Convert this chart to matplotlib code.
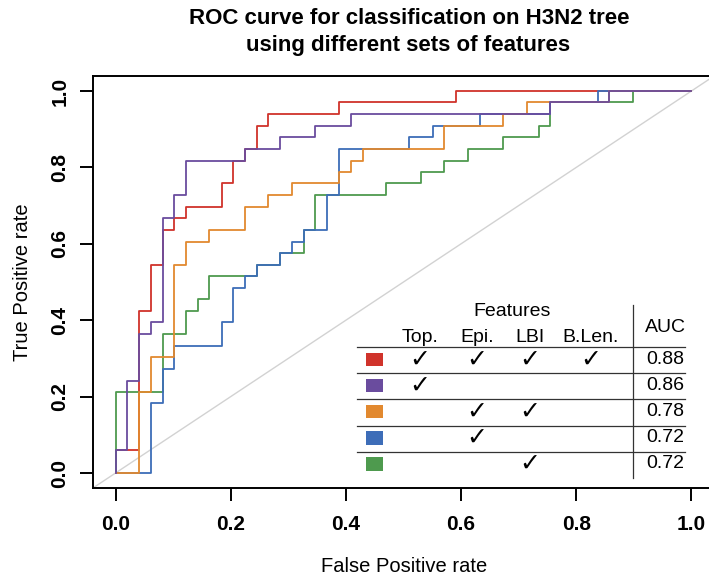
import matplotlib
matplotlib.use("Agg")
import matplotlib.pyplot as plt
from matplotlib.patches import Rectangle

plt.rcParams['font.family'] = ['Liberation Sans', 'DejaVu Sans']

# ---------------- data (ROC step points: top of each vertical step) ----------------
red_fpr = [0.0, 0.0, 0.041, 0.061, 0.082, 0.102, 0.122, 0.184, 0.204, 0.224, 0.245, 0.265, 0.388, 0.592, 1.0]
red_tpr = [0.0, 0.061, 0.424, 0.545, 0.636, 0.667, 0.697, 0.758, 0.818, 0.848, 0.909, 0.939, 0.970, 1.0, 1.0]

purple_fpr = [0.0, 0.0, 0.020, 0.041, 0.061, 0.082, 0.102, 0.122, 0.224, 0.286, 0.347, 0.408, 0.755, 0.857, 1.0]
purple_tpr = [0.0, 0.061, 0.242, 0.364, 0.394, 0.667, 0.727, 0.818, 0.848, 0.879, 0.909, 0.939, 0.970, 1.0, 1.0]

orange_fpr = [0.0, 0.041, 0.061, 0.102, 0.122, 0.163, 0.224, 0.265, 0.306, 0.388, 0.408, 0.429, 0.571, 0.673, 0.714, 0.857, 1.0]
orange_tpr = [0.0, 0.212, 0.303, 0.545, 0.606, 0.636, 0.697, 0.727, 0.758, 0.788, 0.818, 0.848, 0.909, 0.939, 0.970, 1.0, 1.0]

blue_fpr = [0.0, 0.061, 0.082, 0.102, 0.184, 0.204, 0.224, 0.245, 0.286, 0.306, 0.327, 0.367, 0.388, 0.510, 0.551, 0.633, 0.755, 0.837, 1.0]
blue_tpr = [0.0, 0.182, 0.273, 0.333, 0.394, 0.485, 0.515, 0.545, 0.576, 0.606, 0.636, 0.727, 0.848, 0.879, 0.909, 0.939, 0.970, 1.0, 1.0]

green_fpr = [0.0, 0.0, 0.082, 0.122, 0.143, 0.163, 0.245, 0.286, 0.327, 0.347, 0.469, 0.531, 0.571, 0.612, 0.673, 0.735, 0.755, 0.898, 1.0]
green_tpr = [0.0, 0.212, 0.364, 0.424, 0.455, 0.515, 0.545, 0.576, 0.636, 0.727, 0.758, 0.788, 0.818, 0.848, 0.879, 0.909, 0.970, 1.0, 1.0]

feature_names = ["Top.", "Epi.", "LBI", "B.Len."]
row_colors = ["#D0332B", "#6A4C9E", "#E2892F", "#3D6DB8", "#4E9A4E"]
row_features = [[1, 1, 1, 1], [1, 0, 0, 0], [0, 1, 1, 0], [0, 1, 0, 0], [0, 0, 1, 0]]
row_auc = ["0.88", "0.86", "0.78", "0.72", "0.72"]
ticks = [0.0, 0.2, 0.4, 0.6, 0.8, 1.0]

# ---------------- figure ----------------
W, H = 709, 581
fig = plt.figure(figsize=(W / 100, H / 100), dpi=100)
ax = fig.add_axes([92.5 / W, 1 - 488.3 / H, (714.5 - 92.5) / W, (488.3 - 75.7) / H])
ax.set_xlim(-0.04, 1.04)
ax.set_ylim(-0.04, 1.04)

ax.axline((0, 0), (1, 1), color="#d2d2d2", lw=1.0, zorder=1)

curves = [
    (red_fpr, red_tpr, row_colors[0]),
    (green_fpr, green_tpr, row_colors[4]),
    (blue_fpr, blue_tpr, row_colors[3]),
    (orange_fpr, orange_tpr, row_colors[2]),
    (purple_fpr, purple_tpr, row_colors[1]),
]
for fpr, tpr, col in curves:
    ax.plot(fpr, tpr, drawstyle="steps-post", color=col, lw=1.3, zorder=2)

ax.set_xticks(ticks)
ax.set_yticks(ticks)
ax.set_xticklabels(["%.1f" % t for t in ticks], fontweight="bold")
ax.set_yticklabels(["%.1f" % t for t in ticks], fontweight="bold", rotation=90, va="center")
ax.tick_params(axis="both", direction="out", length=9.5, width=1.4, labelsize=15)
ax.tick_params(axis="x", pad=10)
ax.tick_params(axis="y", pad=7)
for s in ax.spines.values():
    s.set_linewidth(1.4)

# ---------------- texts ----------------
def fx(px):
    return px / W

def fy(py):
    return 1 - py / H

fig.text(fx(409), fy(19), "ROC curve for classification on H3N2 tree", ha="center", va="center",
         fontsize=16, fontweight="bold")
fig.text(fx(408), fy(45), "using different sets of features", ha="center", va="center",
         fontsize=16, fontweight="bold")
fig.text(fx(404), fy(567), "False Positive rate", ha="center", va="center", fontsize=14.5)
fig.text(fx(23), fy(282), "True Positive rate", ha="center", va="center", fontsize=14.5, rotation=90)

# ---------------- table legend (overlay in pixel coords) ----------------
ov = fig.add_axes([0, 0, 1, 1], facecolor="none")
ov.set_xlim(0, W)
ov.set_ylim(H, 0)
ov.axis("off")

col_x = [420, 477, 530, 591]
auc_x = 665
row_y = [359.5, 385.5, 411.5, 438.0, 464.0]
hline_y = [347.3, 373.3, 399.3, 425.7, 451.7]

ov.text(512, 312, "Features", ha="center", va="center", fontsize=14)
for name, cx in zip(feature_names, col_x):
    ov.text(cx, 337, name, ha="center", va="center", fontsize=14)
ov.text(auc_x, 327, "AUC", ha="center", va="center", fontsize=14)

for y in hline_y:
    ov.plot([357, 685], [y, y], color="#333333", lw=0.9)
ov.plot([633, 633], [305, 478], color="#333333", lw=0.9)

for ry, col, feats, auc in zip(row_y, row_colors, row_features, row_auc):
    ov.add_patch(Rectangle((366, ry - 6.7), 16.7, 13.4, facecolor=col, edgecolor="none"))
    for f, cx in zip(feats, col_x):
        if f:
            ov.text(cx, ry, "\u2713", ha="center", va="center", fontsize=18,
                    family=["DejaVu Sans"], fontweight="bold")
    ov.text(auc_x, ry, auc, ha="center", va="center", fontsize=14)

fig.savefig("out.png", dpi=100)
